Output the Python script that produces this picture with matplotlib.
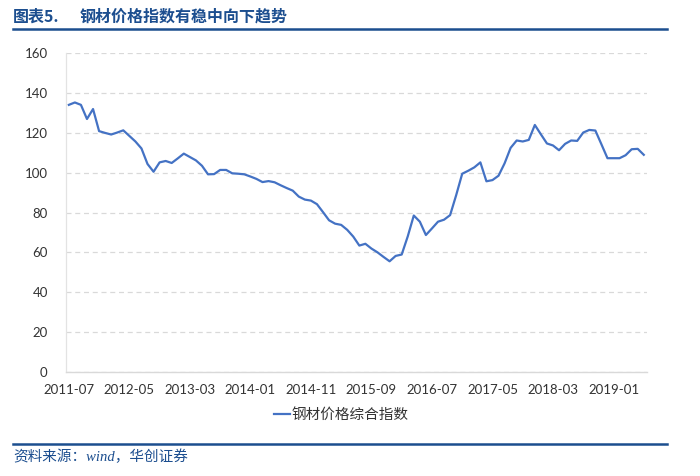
import pandas as pd
import numpy as np
import matplotlib
matplotlib.use('Agg')
import matplotlib.pyplot as plt
from matplotlib.lines import Line2D

# Daten: 钢材价格综合指数, monatlich 2011-07 bis 2019-06
months = pd.period_range('2011-07', periods=96, freq='M').strftime('%Y-%m').tolist()
steel_index = [
    134.1, 135.3, 134.1, 127.0, 132.0, 120.9, 120.0, 119.2, 120.2, 121.3,
    118.5, 115.7, 112.2, 104.4, 100.5, 105.2, 105.9, 104.9, 107.2, 109.6,
    107.9, 106.2, 103.5, 99.2, 99.3, 101.4, 101.4, 99.7, 99.5, 99.2,
    98.1, 96.9, 95.3, 95.8, 95.2, 93.7, 92.3, 91.0, 88.0, 86.5,
    86.0, 84.2, 80.2, 76.1, 74.4, 73.8, 71.3, 67.9, 63.4, 64.3,
    61.9, 60.0, 57.7, 55.5, 58.2, 58.9, 68.0, 78.5, 75.4, 68.7,
    72.0, 75.4, 76.4, 78.7, 88.7, 99.5, 101.0, 102.7, 105.2, 95.7,
    96.3, 98.5, 104.7, 112.5, 116.2, 115.7, 116.5, 124.0, 119.3, 114.7,
    113.7, 111.3, 114.5, 116.2, 116.0, 120.2, 121.5, 121.2, 114.3, 107.3,
    107.3, 107.3, 108.8, 111.8, 112.0, 109.0,
]
tick_labels = ['2011-07', '2012-05', '2013-03', '2014-01', '2014-11',
               '2015-09', '2016-07', '2017-05', '2018-03', '2019-01']
y_ticks = [0, 20, 40, 60, 80, 100, 120, 140, 160]

series_name = '钢材价格综合指数'
title_num = '图表5.'
title_text = '钢材价格指数有稳中向下趋势'
source_text = '资料来源：wind，华创证券'

blue_dark = '#1C4E8F'
line_blue = '#4472C4'
grey_text = '#333333'
cjk = ['Noto Sans CJK SC', 'DejaVu Sans']

fig = plt.figure(figsize=(7, 4.76), dpi=100)
ax = fig.add_axes([0.094, 0.219, 0.830, 0.669])

x = np.arange(len(months))
ax.plot(x, steel_index, color=line_blue, lw=1.6, solid_joinstyle='round')

ax.set_xlim(-0.5, len(months) - 0.5)
ax.set_ylim(0, 160)
ax.set_yticks(y_ticks)
ax.set_yticklabels([str(v) for v in y_ticks], fontfamily='Lato', fontsize=9.5, color=grey_text)
tick_pos = [months.index(t) for t in tick_labels]
ax.set_xticks(tick_pos)
ax.set_xticklabels(tick_labels, fontfamily='Lato', fontsize=9.5, color=grey_text)
ax.tick_params(axis='both', length=0)
ax.tick_params(axis='y', pad=13)
ax.tick_params(axis='x', pad=9)

ax.grid(axis='y', color='#D9D9D9', linestyle=(0, (4, 3)), linewidth=0.9)
ax.set_axisbelow(True)
for side in ['top', 'right']:
    ax.spines[side].set_visible(False)
ax.spines['left'].set_color('#E3E3E3')
ax.spines['bottom'].set_color('#D9D9D9')
ax.spines['left'].set_linewidth(0.9)
ax.spines['bottom'].set_linewidth(1.0)

handle = Line2D([], [], color=line_blue, lw=1.6)
leg = fig.legend([handle], [series_name], loc='center', bbox_to_anchor=(0.487, 0.128),
                 frameon=False, handlelength=1.1, handletextpad=0.1,
                 prop={'family': cjk, 'size': 10.5})
for t in leg.get_texts():
    t.set_color(grey_text)

# Kopfzeile und Fußzeile
fig.text(13 / 700, 1 - 17 / 476, title_num, fontfamily=cjk, fontsize=11.5,
         fontweight='bold', color=blue_dark, va='center', ha='left')
fig.text(80 / 700, 1 - 17 / 476, title_text, fontfamily=cjk, fontsize=11.5,
         fontweight='bold', color=blue_dark, va='center', ha='left')
fig.add_artist(Line2D([13 / 700, 667 / 700], [1 - 28.5 / 476] * 2, color=blue_dark, lw=1.8))
fig.add_artist(Line2D([13 / 700, 667 / 700], [1 - 444 / 476] * 2, color=blue_dark, lw=1.8))
fig.text(13 / 700, 1 - 457 / 476, source_text, fontfamily=['Liberation Serif', 'Noto Sans CJK SC'],
         fontsize=10.5, style='italic', color=blue_dark, va='center', ha='left')

fig.savefig('out.png', dpi=100)
